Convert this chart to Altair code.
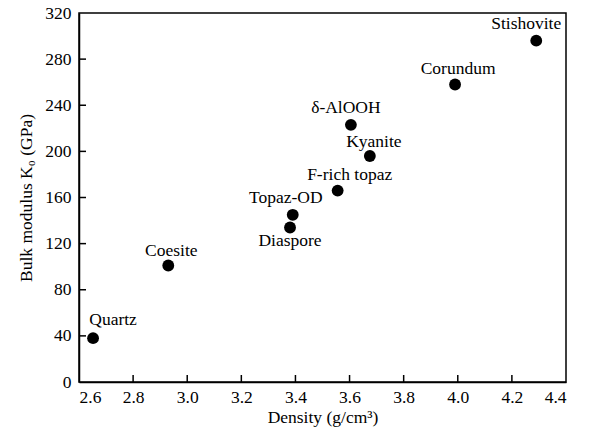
import altair as alt
import pandas as pd

minerals = ["Quartz", "Coesite", "Diaspore", "Topaz-OD", "F-rich topaz",
            "Kyanite", "δ-AlOOH", "Corundum", "Stishovite"]
density = [2.652, 2.93, 3.38, 3.39, 3.556, 3.675, 3.605, 3.99, 4.29]
bulk_modulus = [38, 101, 134, 145, 166, 196, 223, 258, 296]

x_ticks = [2.6, 2.8, 3.0, 3.2, 3.4, 3.6, 3.8, 4.0, 4.2, 4.4]
y_ticks = [0, 40, 80, 120, 160, 200, 240, 280, 320]

# label offsets (styling): name -> (dx, dy)
offsets = {
    "Quartz": (20, -18), "Coesite": (3, -15), "Diaspore": (0, 14),
    "Topaz-OD": (-7, -17), "F-rich topaz": (12, -16), "Kyanite": (4, -14),
    "δ-AlOOH": (-5, -17), "Corundum": (3, -15), "Stishovite": (-10, -17),
}

df = pd.DataFrame({"mineral": minerals, "density": density, "K": bulk_modulus})
W, H = 487, 369
FONT = "Liberation Serif"
FS = 17.5

xs = alt.Scale(domain=[2.6, 4.4], nice=False)
ys = alt.Scale(domain=[0, 320], nice=False)

base = alt.Chart(df)
points = base.mark_circle(size=140, color="black", opacity=1).encode(
    x=alt.X("density:Q", scale=xs,
            axis=alt.Axis(values=x_ticks, format=".1f", title="Density (g/cm³)",
                          tickSize=0, labelPadding=6, titlePadding=3)),
    y=alt.Y("K:Q", scale=ys,
            axis=alt.Axis(values=y_ticks, format="d", title="Bulk modulus K₀ (GPa)",
                          tickSize=0, labelPadding=8, titlePadding=9)),
)

labels = []
for name, (dx, dy) in offsets.items():
    labels.append(
        base.transform_filter(alt.datum.mineral == name)
        .mark_text(font=FONT, fontSize=FS, color="black", dx=dx, dy=dy, baseline="middle")
        .encode(x=alt.X("density:Q", scale=xs), y=alt.Y("K:Q", scale=ys), text="mineral:N")
    )

xt = alt.Chart(pd.DataFrame({"v": x_ticks[1:-1]})).mark_rule(color="black", strokeWidth=1.5).encode(
    x=alt.X("v:Q", scale=xs), y=alt.value(H), y2=alt.value(H - 7))
yt = alt.Chart(pd.DataFrame({"v": y_ticks[1:-1]})).mark_rule(color="black", strokeWidth=1.5).encode(
    y=alt.Y("v:Q", scale=ys), x=alt.value(0), x2=alt.value(7))

chart = alt.layer(xt, yt, points, *labels).properties(
    width=W, height=H,
    autosize=alt.AutoSizeParams(type="none"),
    padding={"left": 79, "top": 13, "right": 32, "bottom": 54},
).configure_view(stroke="black", strokeWidth=1.5).configure_axis(
    domainColor="black", domainWidth=1.5, grid=False,
    labelFont=FONT, labelFontSize=FS, labelColor="black",
    titleFont=FONT, titleFontSize=FS, titleColor="black", titleFontWeight="normal",
)

chart.save("out.html", embed_options={"renderer": "svg", "actions": False})
